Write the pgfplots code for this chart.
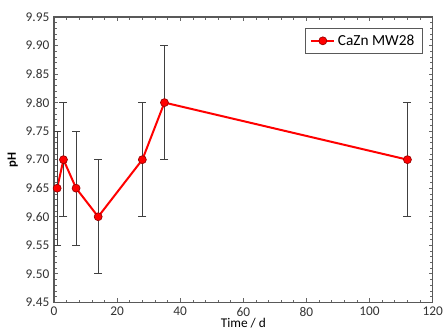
\documentclass[border=0pt]{standalone}
\usepackage{fontspec}
\setmainfont{Carlito}
\usepackage{pgfplots}
\pgfplotsset{compat=1.18}
\begin{document}
\begin{tikzpicture}
\begin{axis}[
  scale only axis,
  width=284pt, height=214pt,
  xmin=0, xmax=120, ymin=9.45, ymax=9.95,
  xtick={0,20,...,120},
  ytick={9.45,9.50,...,9.96},
  minor x tick num=4,
  minor y tick num=4,
  tick align=inside,
  tick pos=both,
  xticklabel pos=lower, yticklabel pos=left,
  major tick length=3pt, minor tick length=2pt,
  tick style={color=gray!80!black, line width=0.5pt},
  axis line style={color=gray!70!black, line width=0.8pt},
  /pgf/number format/assume math mode=true,
  yticklabel style={/pgf/number format/.cd, fixed, fixed zerofill, precision=2},
  ticklabel style={font=\fontsize{10}{12}\selectfont, color=black!80},
  xlabel={Time / d}, ylabel={\textbf{pH}},
  xlabel style={font=\fontsize{10}{12}\selectfont, yshift=5pt},
  ylabel style={font=\fontsize{9.5}{11}\selectfont, yshift=-1pt},
  legend style={at={(1,1)}, anchor=north east, xshift=-7.5pt, yshift=-8pt,
    font=\fontsize{11.5}{13}\selectfont, draw=gray!70!black, inner xsep=4pt, inner ysep=3pt},
  legend cell align=left,
]
\addplot+[red, line width=1.5pt, mark=*, mark size=3pt,
  mark options={fill=red, draw=red!60!black, line width=0.5pt},
  error bars/.cd, y dir=both, y explicit,
  error bar style={color=black!75, line width=0.6pt},
  error mark options={rotate=90, mark size=3pt, color=black!75, line width=0.6pt}]
  coordinates {
  (1,9.65) +- (0,0.10)
  (3,9.70) +- (0,0.10)
  (7,9.65) +- (0,0.10)
  (14,9.60) +- (0,0.10)
  (28,9.70) +- (0,0.10)
  (35,9.80) +- (0,0.10)
  (112,9.70) +- (0,0.10)
  };
\addlegendentry{CaZn MW28}
\end{axis}
\path (current axis.south west) ++(-40.5pt,-23pt) coordinate (bbA);
\path (current axis.north east) ++(8.5pt,12.75pt) coordinate (bbB);
\pgfresetboundingbox
\path (bbA) rectangle (bbB);
\end{tikzpicture}
\end{document}
